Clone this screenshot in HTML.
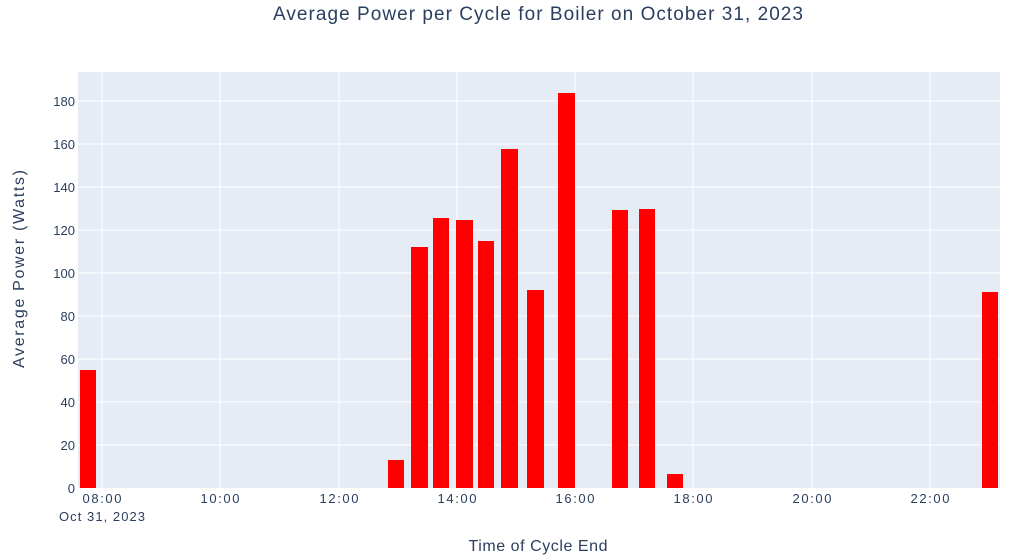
<!DOCTYPE html>
<html><head><meta charset="utf-8"><style>
html,body{margin:0;padding:0;background:#fff;}
svg{display:block;font-family:"Liberation Sans",sans-serif;}
</style></head><body>
<svg width="1024" height="560" viewBox="0 0 1024 560">
<rect x="0" y="0" width="1024" height="560" fill="#fff"/>
<rect x="78" y="72" width="922" height="416" fill="#e5ecf6"/>
<g stroke="#fff" stroke-width="1">
<line x1="78" x2="1000" y1="445" y2="445"/>
<line x1="78" x2="1000" y1="402" y2="402"/>
<line x1="78" x2="1000" y1="359" y2="359"/>
<line x1="78" x2="1000" y1="316" y2="316"/>
<line x1="78" x2="1000" y1="273" y2="273"/>
<line x1="78" x2="1000" y1="230" y2="230"/>
<line x1="78" x2="1000" y1="187" y2="187"/>
<line x1="78" x2="1000" y1="144" y2="144"/>
<line x1="78" x2="1000" y1="101" y2="101"/>
<line x1="102" x2="102" y1="72" y2="488"/>
<line x1="220" x2="220" y1="72" y2="488"/>
<line x1="339" x2="339" y1="72" y2="488"/>
<line x1="457" x2="457" y1="72" y2="488"/>
<line x1="575" x2="575" y1="72" y2="488"/>
<line x1="693" x2="693" y1="72" y2="488"/>
<line x1="812" x2="812" y1="72" y2="488"/>
<line x1="930" x2="930" y1="72" y2="488"/>
</g>
<g fill="#ff0000">
<rect x="80" y="370" width="16" height="118"/>
<rect x="388" y="460" width="16" height="28"/>
<rect x="411" y="247" width="17" height="241"/>
<rect x="433" y="218" width="16" height="270"/>
<rect x="456" y="220" width="17" height="268"/>
<rect x="478" y="241" width="16" height="247"/>
<rect x="501" y="149" width="17" height="339"/>
<rect x="527" y="290" width="17" height="198"/>
<rect x="558" y="93" width="17" height="395"/>
<rect x="612" y="210" width="16" height="278"/>
<rect x="639" y="209" width="16" height="279"/>
<rect x="667" y="474" width="16" height="14"/>
<rect x="982" y="292" width="16" height="196"/>
</g>
<g fill="#2a3f5f" font-size="13" text-anchor="end">
<text x="75" y="493">0</text>
<text x="75" y="450">20</text>
<text x="75" y="407">40</text>
<text x="75" y="364">60</text>
<text x="75" y="321">80</text>
<text x="75" y="278">100</text>
<text x="75" y="235">120</text>
<text x="75" y="192">140</text>
<text x="75" y="149">160</text>
<text x="75" y="106">180</text>
</g>
<g fill="#2a3f5f" font-size="13" text-anchor="middle" lengthAdjust="spacingAndGlyphs">
<text x="102" y="503" textLength="39">08:00</text>
<text x="220" y="503" textLength="39">10:00</text>
<text x="339" y="503" textLength="39">12:00</text>
<text x="457" y="503" textLength="39">14:00</text>
<text x="575" y="503" textLength="39">16:00</text>
<text x="693" y="503" textLength="39">18:00</text>
<text x="812" y="503" textLength="39">20:00</text>
<text x="930" y="503" textLength="39">22:00</text>
<text x="102" y="521" textLength="86">Oct 31, 2023</text>
<text x="538" y="551" font-size="16" textLength="139">Time of Cycle End</text>
<text x="0" y="0" font-size="16" textLength="198" transform="translate(24,269) rotate(-90)">Average Power (Watts)</text>
<text x="538" y="20" font-size="19" textLength="530">Average Power per Cycle for Boiler on October 31, 2023</text>
</g>
</svg>
</body></html>
